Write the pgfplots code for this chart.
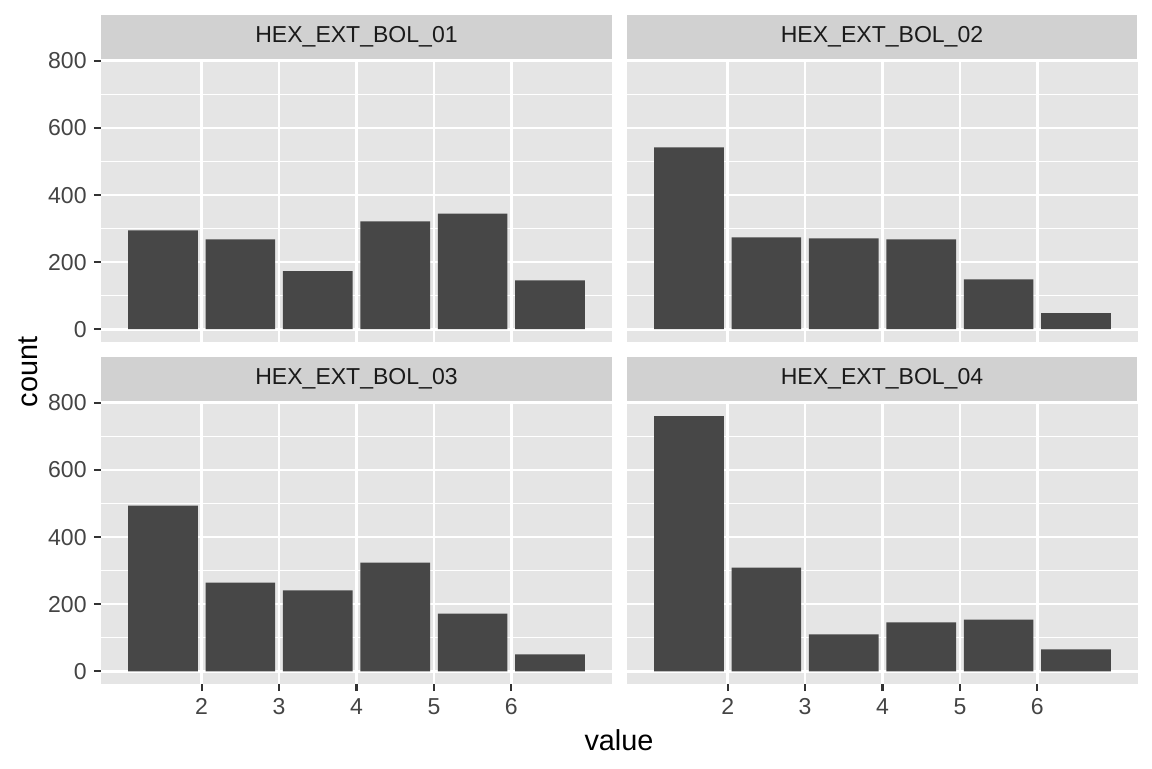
\documentclass[border=0pt]{standalone}
\usepackage{fontspec}
\setmainfont{Liberation Sans}
\usepackage{pgfplots}
\pgfplotsset{compat=1.18}
\definecolor{panelbg}{HTML}{E5E5E5}
\definecolor{stripbg}{HTML}{D1D1D1}
\definecolor{barcol}{HTML}{474747}
\definecolor{ticklab}{HTML}{444444}
\definecolor{tickcol}{HTML}{333333}
\definecolor{striptext}{HTML}{1A1A1A}
\pgfplotsset{
  facet/.style={
    anchor=south west,
    scale only axis,
    width=246.2pt, height=135.87pt,
    xmin=0.7, xmax=7.3, ymin=-38, ymax=803,
    axis background/.style={fill=panelbg},
    axis line style={draw=none},
    ybar, bar width=0.9,
    xtick={2,3,4,5,6},
    ytick={0,200,400,600,800},
    minor ytick={100,300,500,700},
    xtick pos=left, ytick pos=left,
    xmajorgrids, ymajorgrids, yminorgrids,
    major grid style={white, line width=1.25pt},
    minor grid style={white, line width=0.62pt},
    major tick length=3.4pt, minor tick length=0pt,
    tick align=outside,
    tick style={tickcol, line width=1pt},
    /pgf/number format/assume math mode=true,
    ticklabel style={font=\fontsize{11.1}{13}\selectfont, text=ticklab},
    clip=false,
  },
  toprow/.style={xticklabels={}, xtick style={draw=none}},
  rightcol/.style={yticklabels={}, ytick style={draw=none}},
}
\begin{document}
\begin{tikzpicture}
\path[use as bounding box] (0pt,0pt) rectangle (555.03pt,370.02pt);
% strips
\fill[stripbg] (48.66pt,341.60pt) rectangle (294.86pt,362.80pt);
\fill[stripbg] (302.09pt,341.60pt) rectangle (547.81pt,362.80pt);
\fill[stripbg] (48.66pt,176.82pt) rectangle (294.86pt,198.02pt);
\fill[stripbg] (302.09pt,176.82pt) rectangle (547.81pt,198.02pt);
\node[font=\fontsize{11.1}{13}\selectfont, text=striptext] at (171.76pt,352.20pt) {HEX\_EXT\_BOL\_01};
\node[font=\fontsize{11.1}{13}\selectfont, text=striptext] at (424.95pt,352.20pt) {HEX\_EXT\_BOL\_02};
\node[font=\fontsize{11.1}{13}\selectfont, text=striptext] at (171.76pt,187.42pt) {HEX\_EXT\_BOL\_03};
\node[font=\fontsize{11.1}{13}\selectfont, text=striptext] at (424.95pt,187.42pt) {HEX\_EXT\_BOL\_04};

\begin{axis}[facet, toprow, at={(48.66pt,205.25pt)}]
\addplot[fill=barcol, draw=none] coordinates {(1.5,295) (2.5,268) (3.5,173) (4.5,322) (5.5,345) (6.5,146)};
\end{axis}
\begin{axis}[facet, toprow, rightcol, at={(302.09pt,205.25pt)}]
\addplot[fill=barcol, draw=none] coordinates {(1.5,542) (2.5,274) (3.5,271) (4.5,268) (5.5,149) (6.5,48)};
\end{axis}
\begin{axis}[facet, at={(48.66pt,40.47pt)}]
\addplot[fill=barcol, draw=none] coordinates {(1.5,494) (2.5,264) (3.5,241) (4.5,324) (5.5,172) (6.5,50)};
\end{axis}
\begin{axis}[facet, rightcol, at={(302.09pt,40.47pt)}]
\addplot[fill=barcol, draw=none] coordinates {(1.5,761) (2.5,309) (3.5,110) (4.5,146) (5.5,154) (6.5,65)};
\end{axis}

\node[rotate=90, font=\fontsize{13.9}{16}\selectfont] at (13.49pt,190.79pt) {count};
\node[font=\fontsize{13.9}{16}\selectfont] at (298.23pt,13.49pt) {value};
\end{tikzpicture}
\end{document}
